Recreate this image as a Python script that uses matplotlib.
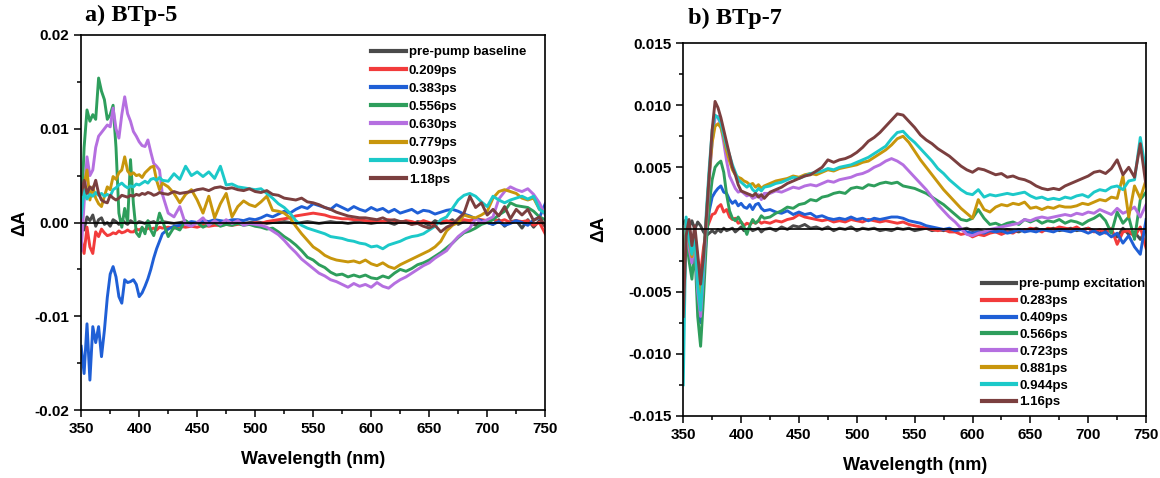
"""
Transient absorption spectra of BTp-5 and BTp-7 at early delay times.
Values read off the published figure, in units of 1e-3 (mOD).
"""
import numpy as np
import matplotlib
matplotlib.use("Agg")
import matplotlib.pyplot as plt
from matplotlib.ticker import MultipleLocator, FormatStrFormatter

plt.rcParams["font.family"] = ["Liberation Sans", "DejaVu Sans"]
plt.rcParams["font.weight"] = "bold"

# wavelength grid: 2.5 nm steps up to 420 nm, 5 nm steps after
WL = np.concatenate([np.arange(350, 420.1, 2.5), np.arange(425, 750.1, 5)])
SCALE = 1e-3

# ── a) BTp-5 ────────────────────────────────────────────────────────────────
LABELS_A = ["pre-pump baseline", "0.209ps", "0.383ps", "0.556ps",
            "0.630ps", "0.779ps", "0.903ps", "1.18ps"]

A_GRAY = [0.3, -0.8, 0.6, 0.2, 0.8, -0.4, 0.3, 0.5, -0.2, 0.0,
          -0.4, 0.3, 0.1, -0.2, 0.3, 0.0, -0.2, 0.2, 0.0, -0.1,
          0.1, 0.0, -0.1, 0.1, 0.0, 0.1, -0.1, 0.0, 0.1,
          0.0, -0.1, 0.0, 0.1, -0.1, 0.0, 0.1, 0.0, -0.1, 0.0, 0.0, 0.1,
          0.0, -0.1, 0.0, 0.1, 0.0, -0.1, 0.0, 0.0, 0.1, 0.0,
          -0.1, 0.0, 0.1, 0.0, -0.1, 0.0, 0.1, 0.0, 0.0, -0.1,
          0.0, 0.1, 0.0, -0.1, 0.0, 0.1, 0.0, -0.2, 0.1, 0.0,
          -0.2, 0.1, 0.0, -0.3, 0.2, -0.1, 0.0, 0.3, -0.2, 0.1,
          0.0, -0.3, 0.2, 0.0, -0.2, 0.3, -0.4, 0.1, 0.2, -0.6,
          0.3, -0.5, 0.2, -0.4]
A_RED = [-1.8, -3.3, -0.5, -2.6, -3.3, -1.0, -1.5, -0.7, -1.1, -1.4,
         -1.3, -1.1, -1.2, -0.9, -1.1, -1.0, -0.8, -1.0, -1.0, -0.7,
         -0.8, -0.6, -0.8, -0.6, -0.7, -0.6, -0.8, -0.5, -0.6,
         -0.5, -0.6, -0.4, -0.5, -0.4, -0.5, -0.3, -0.4, -0.3, -0.3, -0.2, -0.3,
         -0.2, -0.1, -0.2, 0.0, -0.1, 0.1, 0.2, 0.3, 0.4, 0.5,
         0.7, 0.8, 0.9, 1.0, 0.9, 0.8, 0.6, 0.5, 0.4, 0.4,
         0.3, 0.3, 0.2, 0.1, 0.2, 0.1, 0.3, 0.2, 0.0, 0.2,
         0.1, -0.1, 0.2, 0.0, -0.2, 0.1, 0.2, 0.0, 0.2, 0.3,
         0.2, 0.4, 0.3, 0.2, 0.4, 0.1, 0.3, 0.0, 0.2, 0.1,
         0.2, -0.3, 0.0, -1.2]
A_BLUE = [-13.2, -16.1, -10.8, -16.8, -11.1, -12.8, -11.1, -14.3, -11.5, -8.0,
          -5.5, -4.7, -5.8, -7.9, -8.6, -6.1, -6.4, -6.3, -6.1, -6.6,
          -7.9, -7.5, -6.8, -6.0, -5.0, -3.8, -2.8, -2.0, -1.2,
          -0.7, -0.4, -0.3, -0.1, 0.1, 0.0, 0.2, 0.1, 0.3, 0.2, 0.1, 0.3,
          0.3, 0.2, 0.4, 0.3, 0.5, 0.8, 0.6, 0.9, 1.2, 1.0,
          1.4, 1.7, 1.5, 2.0, 1.8, 1.6, 1.4, 1.9, 1.6, 1.3,
          1.7, 1.4, 1.2, 1.6, 1.3, 1.5, 1.1, 1.4, 1.0, 1.2,
          1.4, 1.0, 1.3, 1.2, 0.9, 1.1, 1.3, 1.4, 1.2, 0.9,
          0.7, 0.4, 0.2, 0.0, -0.2, 0.1, -0.3, -0.1, 0.2, 0.0,
          -0.3, 0.3, 0.5, 2.0]
A_GREEN = [0.5, 8.0, 12.0, 10.8, 11.5, 11.0, 15.4, 14.0, 13.1, 11.0,
           11.5, 12.5, 8.0, 1.0, -0.5, 1.5, 0.0, 6.7, 2.0, -1.1,
           -1.5, -0.5, -1.2, 0.2, -0.8, -1.4, -0.3, 1.0, 0.2,
           -1.5, -0.5, -0.8, 0.2, -0.3, 0.0, -0.5, -0.2, 0.0, -0.4, -0.2, -0.3,
           -0.1, -0.3, -0.2, -0.4, -0.5, -0.7, -0.6, -1.0, -1.5, -1.9,
           -2.4, -3.0, -3.7, -4.0, -4.5, -4.8, -5.3, -5.6, -5.5, -5.8,
           -5.6, -5.8, -5.6, -5.9, -6.0, -5.7, -5.9, -5.4, -5.0, -5.2,
           -4.9, -4.5, -4.3, -4.0, -3.6, -3.2, -2.7, -2.2, -1.6, -1.1,
           -0.9, -0.6, -0.2, 0.0, 0.3, 0.8, 1.2, 2.1, 1.8, 1.7,
           1.6, 1.2, 0.6, 0.3]
A_PURPLE = [-3.0, 2.0, 7.0, 5.0, 5.6, 8.0, 9.2, 9.6, 10.0, 10.4,
            10.2, 12.2, 10.0, 9.0, 11.5, 13.4, 11.6, 10.8, 9.7, 9.2,
            8.6, 8.2, 8.1, 8.8, 7.5, 6.3, 6.0, 5.6, 3.0,
            1.0, 0.6, 1.7, -0.2, -0.4, 0.0, 0.5, -0.3, 0.2, -0.2, 0.3, -0.1,
            0.2, -0.3, -0.1, -0.2, -0.3, -0.5, -0.9, -1.3, -1.9, -2.6,
            -3.2, -3.9, -4.4, -4.9, -5.4, -5.7, -6.1, -6.3, -6.6, -6.9,
            -6.5, -6.8, -6.6, -6.9, -6.4, -6.8, -7.0, -6.5, -6.1, -5.8,
            -5.4, -5.0, -4.6, -4.3, -3.8, -3.4, -3.0, -2.2, -1.5, -1.0,
            -0.6, 0.4, 0.0, 0.3, 0.6, 2.5, 3.3, 3.8, 3.5, 3.3,
            3.6, 3.0, 2.1, 0.8]
A_GOLD = [1.0, 4.0, 5.6, 2.4, 3.8, 2.6, 2.0, 1.7, 2.8, 3.8,
          3.5, 4.9, 4.6, 5.3, 5.6, 7.0, 5.5, 5.1, 5.3, 5.0,
          5.1, 4.8, 5.3, 5.6, 5.9, 6.0, 4.5, 3.5, 4.2,
          3.8, 3.1, 2.1, 3.0, 3.5, 2.4, 1.0, 2.8, 0.5, 2.0, 3.1, 0.6,
          1.7, 2.3, 1.9, 1.7, 2.2, 2.8, 1.3, 1.2, 1.0, 0.5,
          -0.4, -1.2, -1.9, -2.6, -3.0, -3.5, -3.8, -4.0, -4.1, -4.2,
          -4.1, -4.3, -4.0, -4.4, -4.6, -4.3, -4.7, -4.9, -4.5, -4.2,
          -3.9, -3.6, -3.3, -3.0, -2.6, -2.0, -0.9, -0.3, 0.0, 0.8,
          0.6, 0.5, 0.8, 1.2, 2.6, 3.3, 3.5, 3.3, 3.1, 2.6,
          2.4, 2.6, 1.4, 1.0]
A_CYAN = [0.6, 3.5, 2.5, 3.0, 2.8, 3.2, 2.9, 3.1, 2.8, 3.0,
          2.8, 3.5, 3.7, 4.0, 4.2, 3.9, 3.7, 3.9, 3.8, 4.1,
          4.0, 4.2, 4.4, 4.2, 4.6, 4.7, 4.5, 4.8, 4.5,
          4.4, 5.2, 4.6, 6.0, 5.0, 5.4, 4.9, 5.4, 4.7, 6.0, 4.0, 4.1,
          3.8, 3.7, 3.6, 3.5, 3.6, 3.1, 2.6, 2.0, 1.6, 1.0,
          0.2, -0.3, -0.6, -0.8, -1.0, -1.2, -1.5, -1.6, -1.7, -1.9,
          -2.0, -2.2, -2.3, -2.6, -2.5, -2.8, -2.4, -2.2, -2.0, -1.7,
          -1.5, -1.4, -1.2, -0.8, -0.4, 0.3, 0.6, 1.5, 2.4, 2.9,
          3.1, 2.8, 2.2, 1.7, 2.8, 2.4, 2.1, 2.4, 2.6, 2.8,
          2.5, 2.8, 1.4, 1.0]
A_BROWN = [3.0, 4.5, 3.1, 3.8, 3.5, 4.5, 3.1, 2.4, 2.2, 2.1,
           2.9, 2.6, 2.4, 2.6, 2.9, 2.8, 2.7, 2.9, 2.8, 3.0,
           2.9, 3.1, 3.0, 3.2, 3.1, 2.9, 3.0, 3.2, 3.1,
           3.0, 3.3, 3.1, 3.2, 3.3, 3.5, 3.6, 3.4, 3.7, 3.8, 3.6, 3.7,
           3.5, 3.4, 3.6, 3.3, 3.2, 3.4, 3.0, 2.9, 2.6, 2.5,
           2.4, 2.6, 2.2, 2.1, 1.9, 1.6, 1.4, 1.1, 0.9, 0.7,
           0.6, 0.5, 0.5, 0.4, 0.3, 0.5, 0.2, 0.3, 0.1, 0.1,
           -0.2, -0.1, -0.4, -0.6, -0.3, -1.0, -0.5, -0.2, 0.4, 1.0,
           2.8, 1.6, 2.1, 0.8, 1.4, 0.7, 1.7, 0.4, 1.4, 0.8,
           1.4, 0.2, 0.6, -0.4]

# ── b) BTp-7 ────────────────────────────────────────────────────────────────
LABELS_B = ["pre-pump excitation", "0.283ps", "0.409ps", "0.566ps",
            "0.723ps", "0.881ps", "0.944ps", "1.16ps"]

B_GRAY = [0.5, 0.8, 0.2, 0.7, 0.0, 0.6, 0.3, -0.2, -0.5, -0.3,
          -0.1, -0.3, 0.0, -0.2, 0.1, -0.1, 0.0, 0.1, -0.2, 0.0,
          0.2, -0.1, 0.0, 0.1, -0.1, 0.0, 0.1, -0.2, 0.0,
          0.1, -0.1, 0.2, 0.0, 0.3, 0.2, 0.4, 0.1, 0.2, 0.0, 0.2, -0.1,
          0.1, 0.0, 0.2, -0.1, 0.1, 0.0, 0.1, -0.1, 0.0, -0.1,
          0.1, 0.0, 0.1, -0.1, 0.0, 0.1, -0.1, 0.0, -0.1, 0.0,
          -0.1, 0.0, 0.1, -0.1, 0.0, -0.2, 0.0, -0.1, -0.2, 0.0,
          -0.1, -0.2, 0.0, -0.1, 0.1, -0.1, 0.0, 0.1, -0.1, 0.0,
          0.1, -0.1, 0.0, 0.1, -0.1, -0.3, 0.0, -0.2, -0.6, 0.1,
          -0.4, -0.2, -0.8, 0.0]
B_RED = [-2.0, 0.5, 0.2, -1.5, -0.3, -2.5, -3.5, -1.5, 0.0, 0.6,
         1.2, 1.3, 1.8, 2.0, 1.4, 1.6, 1.0, 0.8, 0.9, 0.5,
         0.6, 0.3, 0.5, 0.4, 0.6, 0.5, 0.7, 0.5, 0.6,
         0.5, 0.7, 0.6, 0.8, 0.9, 1.2, 1.0, 0.9, 0.8, 0.7, 0.8, 0.6,
         0.7, 0.6, 0.8, 0.7, 0.6, 0.8, 0.7, 0.6, 0.7, 0.6,
         0.5, 0.6, 0.4, 0.3, 0.2, 0.1, 0.0, -0.1, 0.0, -0.2,
         -0.2, -0.4, -0.3, -0.6, -0.4, -0.5, -0.3, -0.2, -0.4, -0.2,
         -0.3, 0.0, -0.1, 0.1, 0.0, -0.2, 0.1, 0.0, 0.2, 0.1,
         0.0, 0.2, -0.1, 0.1, -0.2, 0.0, -0.3, 0.1, -1.2, -0.2,
         -0.1, -0.6, 0.2, -1.5]
B_BLUE = [-5.0, 0.6, -0.5, -2.5, -0.8, -5.5, -7.5, -4.0, -0.5, 1.5,
          2.6, 3.0, 3.3, 3.5, 3.0, 2.9, 2.4, 2.1, 2.3, 1.9,
          2.1, 1.8, 1.7, 2.0, 1.6, 2.0, 2.1, 1.7, 1.5,
          1.6, 1.4, 1.3, 1.5, 1.2, 1.4, 1.2, 1.3, 1.0, 1.1, 0.9, 0.8,
          0.9, 0.8, 1.0, 0.8, 0.9, 0.7, 0.9, 0.8, 0.9, 1.0,
          1.0, 0.9, 0.7, 0.6, 0.5, 0.3, 0.2, 0.1, 0.0, 0.1,
          -0.1, 0.0, -0.2, -0.3, -0.2, -0.3, -0.1, -0.2, -0.1, -0.3,
          -0.2, 0.0, -0.2, -0.1, -0.2, 0.0, -0.1, -0.2, 0.0, -0.1,
          -0.2, 0.0, -0.1, -0.3, -0.1, -0.4, -0.2, -0.6, -0.3, -1.1,
          -0.5, -1.4, -2.0, 0.8]
B_GREEN = [-7.0, -0.5, -2.5, -4.0, -1.5, -7.0, -9.4, -5.5, -1.0, 2.0,
           4.0, 5.0, 5.3, 5.5, 4.6, 2.8, 1.5, 0.9, 0.7, 1.0,
           0.6, 0.2, -0.4, 0.3, 0.8, 0.5, 0.7, 1.1, 0.9,
           1.0, 1.3, 1.5, 1.8, 1.7, 2.0, 2.1, 2.4, 2.3, 2.6, 2.7, 2.9,
           3.0, 2.9, 3.3, 3.4, 3.3, 3.6, 3.5, 3.7, 3.8, 3.7,
           3.8, 3.5, 3.4, 3.3, 3.1, 2.9, 2.6, 2.3, 2.0, 1.6,
           1.2, 0.8, 0.7, 0.9, 1.6, 0.9, 0.4, 0.5, 0.3, 0.5,
           0.6, 0.4, 0.8, 0.6, 0.8, 0.5, 0.7, 0.6, 0.8, 0.5,
           0.7, 0.6, 0.4, 0.7, 0.9, 1.2, 0.7, -0.3, 1.4, 0.5,
           1.0, -0.8, 2.4, 3.0]
B_PURPLE = [-6.0, 0.5, -1.5, -2.7, -0.8, -5.0, -7.0, -3.5, 0.5, 4.0,
            7.0, 9.0, 9.1, 8.3, 7.0, 5.5, 4.3, 3.8, 3.3, 3.0,
            3.1, 2.9, 2.7, 2.8, 2.5, 2.6, 2.8, 2.4, 2.9,
            2.9, 3.1, 3.0, 3.2, 3.4, 3.3, 3.5, 3.6, 3.5, 3.7, 3.9, 3.8,
            4.0, 4.1, 4.2, 4.4, 4.5, 4.7, 5.0, 5.2, 5.5, 5.7,
            5.5, 5.2, 4.7, 4.2, 3.7, 3.2, 2.6, 2.0, 1.5, 1.0,
            0.6, 0.1, -0.4, -0.5, -0.3, -0.2, 0.0, 0.1, 0.2, 0.3,
            0.4, 0.5, 0.8, 0.7, 0.9, 1.0, 0.9, 1.0, 1.1, 1.2,
            1.1, 1.3, 1.2, 1.4, 1.3, 1.6, 1.4, 1.2, 1.7, 1.3,
            1.5, 1.8, 1.0, 2.0]
B_GOLD = [-4.5, 0.7, -1.0, -2.2, -0.5, -3.8, -5.5, -2.5, 1.0, 4.5,
          7.0, 8.3, 8.5, 8.2, 7.4, 6.3, 5.5, 4.8, 4.4, 4.2,
          4.1, 3.9, 3.8, 3.6, 3.7, 3.4, 3.6, 3.3, 3.5,
          3.7, 3.9, 4.0, 4.1, 4.3, 4.2, 4.4, 4.5, 4.4, 4.6, 4.8, 4.7,
          4.9, 5.0, 5.1, 5.2, 5.4, 5.5, 5.8, 6.1, 6.4, 6.8,
          7.3, 7.5, 7.0, 6.3, 5.6, 5.0, 4.4, 3.8, 3.2, 2.7,
          2.2, 1.7, 1.3, 0.9, 2.4, 1.6, 1.4, 1.8, 2.0, 1.9,
          2.1, 2.0, 2.2, 1.7, 1.8, 1.6, 1.8, 1.7, 1.9, 1.8,
          1.8, 1.9, 2.1, 2.0, 2.2, 2.4, 2.3, 2.6, 2.5, 4.3,
          1.0, 3.5, 2.5, 4.0]
B_CYAN = [-12.5, 1.0, -0.8, -2.0, -0.5, -4.5, -6.5, -3.0, 1.5, 5.0,
          8.0, 9.2, 9.0, 8.6, 7.6, 6.7, 6.0, 5.2, 4.6, 4.0,
          3.8, 3.6, 3.4, 3.6, 3.2, 3.0, 3.3, 3.1, 3.4,
          3.5, 3.7, 3.8, 4.0, 4.2, 4.1, 4.3, 4.5, 4.6, 4.7, 4.9, 4.8,
          5.0, 5.1, 5.2, 5.4, 5.6, 5.8, 6.1, 6.4, 6.7, 7.3,
          7.8, 7.9, 7.4, 7.0, 6.5, 6.0, 5.5, 4.9, 4.5, 4.0,
          3.6, 3.2, 2.9, 2.8, 3.2, 2.6, 2.8, 2.7, 2.8, 2.9,
          2.8, 2.9, 3.0, 2.7, 2.5, 2.6, 2.4, 2.5, 2.4, 2.6,
          2.5, 2.7, 2.8, 2.6, 3.0, 3.2, 3.1, 3.4, 3.5, 3.2,
          3.9, 4.0, 7.4, 4.5]
B_BROWN = [-7.0, -0.5, 0.8, -1.3, 0.3, -2.0, -4.4, -2.2, 1.0, 4.5,
           8.0, 10.3, 9.8, 9.0, 8.0, 7.0, 6.0, 5.0, 4.4, 3.6,
           3.1, 3.0, 2.9, 2.8, 2.7, 2.9, 2.6, 2.8, 2.5,
           3.0, 3.2, 3.4, 3.7, 3.9, 4.1, 4.3, 4.4, 4.7, 5.0, 5.6, 5.4,
           5.6, 5.7, 5.9, 6.2, 6.6, 7.1, 7.4, 7.8, 8.3, 8.8,
           9.3, 9.2, 8.7, 8.2, 7.6, 7.2, 6.9, 6.5, 6.2, 5.9,
           5.5, 5.1, 4.8, 4.6, 4.9, 4.8, 4.6, 4.4, 4.5, 4.2,
           4.3, 4.1, 4.0, 3.8, 3.5, 3.3, 3.2, 3.3, 3.2, 3.5,
           3.7, 3.9, 4.1, 4.3, 4.6, 4.7, 4.5, 4.9, 5.6, 4.4,
           5.0, 4.2, 6.9, 3.5]

COLORS = ["#4a4a4a", "#f23b3b", "#1f5fd6", "#2e9e5c",
          "#b56fe0", "#c8960c", "#1cc9c9", "#7b3f3f"]

SERIES_A = [A_GRAY, A_RED, A_BLUE, A_GREEN, A_PURPLE, A_GOLD, A_CYAN, A_BROWN]
SERIES_B = [B_GRAY, B_RED, B_BLUE, B_GREEN, B_PURPLE, B_GOLD, B_CYAN, B_BROWN]
for s in SERIES_A + SERIES_B:
    assert len(s) == len(WL), len(s)


def draw_panel(ax, series, labels, ylim, ymajor, yminor, yfmt):
    for vals, lab, col in zip(series, labels, COLORS):
        ax.plot(WL, np.array(vals) * SCALE, color=col, lw=2.1, label=lab,
                solid_joinstyle="round")
    ax.axhline(0, color="black", lw=1.2, zorder=3)

    ax.set_xlim(350, 750)
    ax.set_ylim(*ylim)
    ax.xaxis.set_major_locator(MultipleLocator(50))
    ax.xaxis.set_minor_locator(MultipleLocator(25))
    ax.yaxis.set_major_locator(MultipleLocator(ymajor))
    ax.yaxis.set_minor_locator(MultipleLocator(yminor))
    ax.yaxis.set_major_formatter(FormatStrFormatter(yfmt))
    ax.tick_params(which="both", direction="out", top=False, right=False,
                   labelsize=11, width=1.1)
    ax.tick_params(which="major", length=5)
    ax.tick_params(which="minor", length=3)
    for lab in ax.get_xticklabels() + ax.get_yticklabels():
        lab.set_fontweight("bold")
    for sp in ax.spines.values():
        sp.set_linewidth(1.2)
    ax.set_xlabel("Wavelength (nm)", fontsize=13, fontweight="bold", labelpad=11)
    ax.set_ylabel("ΔA", fontsize=13, fontweight="bold")


fig = plt.figure(figsize=(11.6, 4.78), dpi=100, facecolor="white")
ax_a = fig.add_axes([0.070, 0.142, 0.400, 0.785])
ax_b = fig.add_axes([0.589, 0.130, 0.399, 0.780])

draw_panel(ax_a, SERIES_A, LABELS_A, (-0.02, 0.02), 0.01, 0.005, "%.2f")
draw_panel(ax_b, SERIES_B, LABELS_B, (-0.015, 0.015), 0.005, 0.0025, "%.3f")

ax_a.yaxis.set_label_coords(-0.115, 0.5)
ax_b.yaxis.set_label_coords(-0.165, 0.5)

leg_kw = dict(frameon=False, handlelength=2.6, handletextpad=0.25,
              borderpad=0.0, borderaxespad=0.0,
              prop={"size": 9.5, "weight": "bold"})
leg_a = ax_a.legend(loc="upper left", bbox_to_anchor=(0.625, 0.97),
                    labelspacing=0.45, **leg_kw)
leg_b = ax_b.legend(loc="lower left", bbox_to_anchor=(0.645, 0.02),
                    labelspacing=0.35, **leg_kw)
for leg in (leg_a, leg_b):
    for h in leg.get_lines():
        h.set_linewidth(3.0)

fig.text(0.073, 0.968, "a) BTp-5", fontsize=17.5, fontweight="bold",
         family=["Liberation Serif", "DejaVu Serif"], va="center")
fig.text(0.593, 0.962, "b) BTp-7", fontsize=17.5, fontweight="bold",
         family=["Liberation Serif", "DejaVu Serif"], va="center")

fig.savefig("out.png", dpi=100, facecolor="white")
